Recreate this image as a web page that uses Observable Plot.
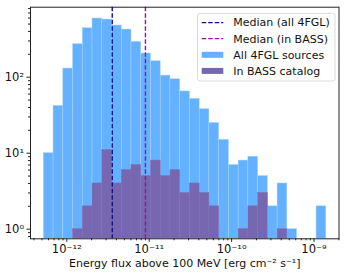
<!DOCTYPE html>
<html><head><meta charset="utf-8">
<script src="https://cdn.jsdelivr.net/npm/d3@7"></script>
<script src="https://cdn.jsdelivr.net/npm/@observablehq/plot@0.6"></script>
<style>
body{margin:0;background:#fff;}
svg{font-family:"DejaVu Sans",sans-serif;}
</style>
</head><body><div id="chart"></div>
<script>
// Histogram bins (log10 of energy flux)
const binLog10Start = -12.279;
const binLog10Width = 0.1182;
const allCounts  = [10,42,130,272,441,592,574,479,424,292,205,162,105,94,65,52,38,25,15,7,8,9,5,2,4,1,0,0,2];
const bassCounts = [0,0,0,1,2,4,11,4,6,7,5,8,5,6,3,4,3,2,0,0,1,2,3,0,1,0,0,0,0];
const medianAll  = 3.56e-12;
const medianBass = 9.0e-12;
const xTicks = [1e-12, 1e-11, 1e-10, 1e-9];
const xTickLabels = ["10⁻¹²", "10⁻¹¹", "10⁻¹⁰", "10⁻⁹"];
const yTicks = [1, 10, 100];
const yTickLabels = ["10⁰", "10¹", "10²"];
const xLabel = "Energy flux above 100 MeV [erg cm⁻² s⁻¹]";
const legendLabels = ["Median (all 4FGL)", "Median (in BASS)", "All 4FGL sources", "In BASS catalog"];

const colBlue = "#63b1ff", colPurple = "#7667b0";
const colMedAll = "#10108a", colMedBass = "#9a1497";

function rows(counts) {
  return counts.map((c, i) => ({
    x1: Math.pow(10, binLog10Start + i * binLog10Width),
    x2: Math.pow(10, binLog10Start + (i + 1) * binLog10Width),
    count: c
  })).filter(d => d.count > 0);
}
const allRows = rows(allCounts), bassRows = rows(bassCounts);

const xDomain = [Math.pow(10, -12.4405), Math.pow(10, -8.697)];
const yDomain = [0.748, 834];
function minors(lo, hi) {
  const out = [];
  for (let k = Math.floor(Math.log10(lo)) - 1; k <= Math.ceil(Math.log10(hi)); k++)
    for (let m = 2; m <= 9; m++) { const v = m * Math.pow(10, k); if (v >= lo && v <= hi) out.push(v); }
  return out;
}

const chart = Plot.plot({
  width: 348, height: 276,
  marginLeft: 30, marginRight: 9.5, marginTop: 6.7, marginBottom: 37.7,
  style: {fontFamily: "DejaVu Sans, sans-serif", fontSize: "11px", background: "white", color: "#111"},
  x: {type: "log", domain: xDomain},
  y: {type: "log", domain: yDomain},
  marks: [
    Plot.rectY(allRows, {x1: "x1", x2: "x2", y1: 0.5, y2: "count", fill: colBlue, stroke: "#a9d3ff", strokeWidth: 0.5, clip: true}),
    Plot.rectY(bassRows, {x1: "x1", x2: "x2", y1: 0.5, y2: "count", fill: colPurple, stroke: "#7f72b6", strokeWidth: 0.5, clip: true}),
    Plot.ruleX([medianAll], {stroke: colMedAll, strokeWidth: 1.4, strokeDasharray: "4.5,2"}),
    Plot.ruleX([medianBass], {stroke: colMedBass, strokeWidth: 1.4, strokeDasharray: "4.5,2"}),
    Plot.axisX(xTicks, {tickSize: 3.5, tickPadding: 3, tickFormat: d => xTickLabels[xTicks.indexOf(d)], label: null, fontSize: 11.5, stroke: "#222"}),
    Plot.axisX(minors(xDomain[0], xDomain[1]), {tickSize: 2, tickFormat: () => "", label: null, stroke: "#222"}),
    Plot.axisY(yTicks, {tickSize: 3.5, tickPadding: 3, tickFormat: d => yTickLabels[yTicks.indexOf(d)], label: null, fontSize: 11.5, stroke: "#222"}),
    Plot.axisY(minors(yDomain[0], yDomain[1]), {tickSize: 2, tickFormat: () => "", label: null, stroke: "#222"}),
    Plot.text([xLabel], {frameAnchor: "bottom", dy: 25, lineAnchor: "middle", fontSize: 11, fill: "#111"}),
    Plot.frame({stroke: "#222", strokeWidth: 1})
  ]
});
document.getElementById("chart").appendChild(chart);

// legend inside the plot (upper right)
const svg = d3.select(chart);
const lg = svg.append("g").attr("text-anchor", "start");
lg.append("rect").attr("x", 197.5).attr("y", 13.3).attr("width", 137.5).attr("height", 67.7)
  .attr("rx", 2.5).attr("fill", "white").attr("fill-opacity", 0.85).attr("stroke", "#d3d3d3").attr("stroke-width", 0.8);
const handles = [
  {type: "line", color: colMedAll},
  {type: "line", color: colMedBass},
  {type: "patch", color: colBlue},
  {type: "patch", color: colPurple}
];
handles.forEach((h, i) => {
  const cy = 22.6 + i * 16.1;
  if (h.type === "line") {
    lg.append("line").attr("x1", 201.7).attr("x2", 223.3).attr("y1", cy).attr("y2", cy)
      .attr("stroke", h.color).attr("stroke-width", 1.3).attr("stroke-dasharray", "4.5,2");
  } else {
    lg.append("rect").attr("x", 201.7).attr("y", cy - 3).attr("width", 21.6).attr("height", 6).attr("fill", h.color);
  }
  lg.append("text").attr("x", 233.3).attr("y", cy).attr("dy", "0.35em").attr("font-size", 11)
    .attr("text-anchor", "start").attr("fill", "#111").text(legendLabels[i]);
});
</script>
</body></html>
